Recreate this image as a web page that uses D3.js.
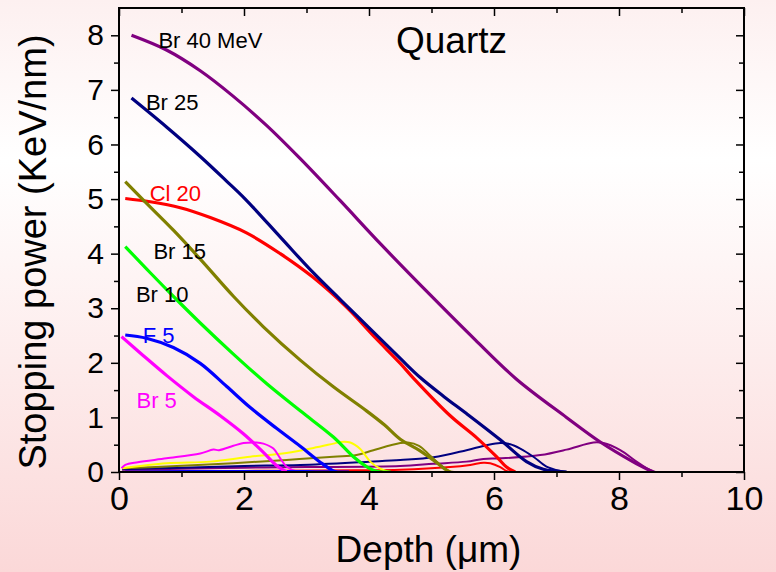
<!DOCTYPE html>
<html>
<head>
<meta charset="utf-8">
<script src="https://cdn.jsdelivr.net/npm/d3@7"></script>
<style>
html,body{margin:0;padding:0;}
svg{display:block;font-family:"Liberation Sans",Arial,sans-serif;}
</style>
</head>
<body>
<svg id="chart" width="776" height="572"></svg>
<script>
// ---- Data (depth in µm, stopping power in keV/nm) ----
const xTicks = [0, 2, 4, 6, 8, 10];
const yTicks = [0, 1, 2, 3, 4, 5, 6, 7, 8];

// electronic stopping (thick lines)
const br40Elec = [[0.2,8.0],[0.76,7.73],[1.3,7.35],[1.82,6.89],[2.36,6.35],[2.9,5.74],[3.54,4.97],[4.2,4.16],[5.0,3.22],[5.7,2.42],[6.36,1.70],[7.16,1.0],[7.7,0.55],[8.22,0.19],[8.54,0.0]];
const br25Elec = [[0.2,6.85],[0.76,6.32],[1.3,5.78],[1.72,5.33],[2.02,5.0],[2.6,4.28],[3.1,3.66],[3.8,2.87],[4.5,2.08],[4.82,1.73],[5.2,1.38],[5.56,1.07],[6.1,0.59],[6.52,0.19],[6.79,0.05],[7.16,0.0]];
const cl20Elec = [[0.1,5.01],[0.5,4.95],[0.98,4.84],[1.46,4.66],[2.04,4.38],[2.58,4.0],[3.1,3.57],[3.64,3.02],[4.1,2.46],[4.5,1.99],[4.71,1.72],[5.3,1.03],[5.72,0.63],[6.04,0.28],[6.2,0.09],[6.34,0.0]];
const br15Elec = [[0.1,5.32],[0.39,4.98],[0.87,4.43],[1.3,3.9],[1.83,3.22],[2.31,2.66],[2.9,2.05],[3.43,1.56],[3.96,1.12],[4.25,0.86],[4.5,0.6],[4.8,0.4],[5.05,0.2],[5.26,0.02],[5.3,0.0]];
const br10Elec = [[0.1,4.13],[0.5,3.65],[0.92,3.16],[1.3,2.73],[1.83,2.16],[2.36,1.62],[2.9,1.12],[3.43,0.64],[3.75,0.28],[3.96,0.1],[4.1,0.02],[4.2,0.0],[4.35,0.0]];
const f5Elec   = [[0.1,2.51],[0.44,2.45],[0.87,2.28],[1.3,1.99],[1.72,1.57],[2.1,1.18],[2.52,0.8],[2.9,0.47],[3.22,0.18],[3.43,0.02],[3.5,0.0],[3.68,0.0]];
const br5Elec  = [[0.04,2.48],[0.39,2.13],[0.76,1.77],[1.19,1.38],[1.62,1.03],[1.99,0.7],[2.31,0.36],[2.52,0.12],[2.68,0.0]];

// nuclear stopping (thin lines)
const br5Nucl  = [[0.04,0.07],[0.1,0.13],[0.3,0.18],[0.76,0.25],[1.3,0.34],[1.51,0.41],[1.6,0.4],[1.83,0.48],[1.99,0.53],[2.2,0.54],[2.31,0.52],[2.47,0.43],[2.58,0.25],[2.68,0.1],[2.85,0.01],[3.24,0.0]];
const br10Nucl = [[0.05,0.07],[0.76,0.16],[1.46,0.19],[2.1,0.28],[2.68,0.35],[3.11,0.44],[3.43,0.52],[3.55,0.55],[3.7,0.54],[3.86,0.42],[4.02,0.19],[4.18,0.06],[4.34,0.0],[4.79,0.0]];
const br15Nucl = [[0.05,0.07],[0.76,0.1],[1.83,0.16],[2.68,0.22],[3.43,0.28],[3.8,0.31],[4.07,0.4],[4.5,0.53],[4.62,0.54],[4.8,0.48],[4.98,0.3],[5.15,0.12],[5.3,0.01],[5.4,0.0],[6.0,0.0]];
const br25Nucl = [[0.05,0.05],[1.0,0.08],[2.0,0.11],[2.9,0.13],[4.0,0.19],[4.5,0.22],[5.03,0.27],[5.56,0.4],[5.88,0.49],[6.1,0.53],[6.26,0.51],[6.42,0.43],[6.63,0.28],[6.84,0.1],[7.06,0.02],[7.18,0.0]];
const br40Nucl = [[0.05,0.04],[1.0,0.06],[2.0,0.08],[3.0,0.09],[4.5,0.11],[5.03,0.15],[5.56,0.19],[5.83,0.24],[6.1,0.25],[6.74,0.31],[7.16,0.41],[7.59,0.54],[7.75,0.53],[8.02,0.4],[8.28,0.19],[8.44,0.07],[8.58,0.0]];
const cl20Nucl = [[0.1,0.01],[2.0,0.02],[3.8,0.03],[4.5,0.04],[5.3,0.09],[5.62,0.13],[5.83,0.17],[5.94,0.16],[6.1,0.09],[6.2,0.02],[6.3,0.0],[6.7,0.0]];
const f5Nucl   = [[0.1,0.01],[2.0,0.02],[3.0,0.02],[3.4,0.01],[3.68,0.0]];

const nuclearSeries = [
  {data: br40Nucl, color: "#800080"},
  {data: cl20Nucl, color: "#ff0000"},
  {data: br25Nucl, color: "#000080"},
  {data: br15Nucl, color: "#808000"},
  {data: br10Nucl, color: "#ffff00"},
  {data: br5Nucl,  color: "#ff00ff"},
  {data: f5Nucl,   color: "#0000ff"}
];
const electronicSeries = [
  {data: br40Elec, color: "#800080"},
  {data: cl20Elec, color: "#ff0000"},
  {data: br25Elec, color: "#000080"},
  {data: br15Elec, color: "#808000"},
  {data: br10Elec, color: "#00ff00"},
  {data: f5Elec,   color: "#0000ff"},
  {data: br5Elec,  color: "#ff00ff"}
];
const labels = [
  {text: "Br 40 MeV", x: 0.63, y: 7.76, color: "#000"},
  {text: "Br 25",     x: 0.43, y: 6.64, color: "#000"},
  {text: "Cl 20",     x: 0.49, y: 4.97, color: "#ff0000"},
  {text: "Br 15",     x: 0.55, y: 3.91, color: "#000"},
  {text: "Br 10",     x: 0.27, y: 3.12, color: "#000"},
  {text: "F 5",       x: 0.38, y: 2.37, color: "#0000ff"},
  {text: "Br 5",      x: 0.28, y: 1.17, color: "#ff00ff"}
];

// ---- Layout ----
const svg = d3.select("#chart");
const W = 776, H = 572;
const pL = 119, pR = 744, pT = 8, pB = 472;
const x = d3.scaleLinear().domain([0, 10]).range([pL, pR]);
const y = d3.scaleLinear().domain([0, 8.5]).range([pB, pT]);

// background gradient
const defs = svg.append("defs");
const grad = defs.append("linearGradient").attr("id","bg").attr("x1",0).attr("y1",0).attr("x2",0).attr("y2",1);
grad.append("stop").attr("offset","0%").attr("stop-color","#fdf0f0");
grad.append("stop").attr("offset","28%").attr("stop-color","#ffffff");
grad.append("stop").attr("offset","100%").attr("stop-color","#fbd8d8");
svg.append("rect").attr("width",W).attr("height",H).attr("fill","url(#bg)");
defs.append("clipPath").attr("id","plotclip").append("rect")
  .attr("x",pL).attr("y",pT-4).attr("width",pR-pL).attr("height",pB-pT+4);

const line = d3.line().x(d => x(d[0])).y(d => y(d[1])).curve(d3.curveCatmullRom.alpha(0.5));

const g = svg.append("g").attr("clip-path","url(#plotclip)");
nuclearSeries.forEach(s => {
  g.append("path").attr("d", line(s.data)).attr("fill","none")
   .attr("stroke", s.color).attr("stroke-width", 2).attr("stroke-linejoin","round");
});
electronicSeries.forEach(s => {
  g.append("path").attr("d", line(s.data)).attr("fill","none")
   .attr("stroke", s.color).attr("stroke-width", 3.2).attr("stroke-linejoin","round");
});

// ---- Axes ----
const minorX = d3.range(1, 10, 2);
const minorY = d3.range(0.5, 8.5, 1);

const xAxis = svg.append("g").attr("transform", `translate(0,${pB})`)
  .call(d3.axisBottom(x).tickValues(xTicks).tickSize(8).tickPadding(6).tickFormat(d3.format("d")));
xAxis.selectAll("text").attr("font-size", 34).attr("fill","#000").attr("font-family","Liberation Sans, Arial, sans-serif");
xAxis.append("g").call(d3.axisBottom(x).tickValues(minorX).tickSize(5).tickFormat(""));

const yAxis = svg.append("g").attr("transform", `translate(${pL},0)`)
  .call(d3.axisLeft(y).tickValues(yTicks).tickSize(8).tickPadding(7).tickFormat(d3.format("d")));
yAxis.selectAll("text").attr("font-size", 30).attr("fill","#000").attr("font-family","Liberation Sans, Arial, sans-serif");
yAxis.append("g").call(d3.axisLeft(y).tickValues(minorY).tickSize(5).tickFormat(""));

// top & right mirrored ticks (pointing inward)
const topAx = svg.append("g").attr("transform", `translate(0,${pT})`);
topAx.call(d3.axisBottom(x).tickValues(xTicks).tickSize(8).tickFormat(""));
topAx.append("g").call(d3.axisBottom(x).tickValues(minorX).tickSize(5).tickFormat(""));
const rightAx = svg.append("g").attr("transform", `translate(${pR},0)`);
rightAx.call(d3.axisLeft(y).tickValues(yTicks).tickSize(8).tickFormat(""));
rightAx.append("g").call(d3.axisLeft(y).tickValues(minorY).tickSize(5).tickFormat(""));

svg.selectAll(".domain").remove();
svg.selectAll(".tick line").attr("stroke","#000").attr("stroke-width",1.5);

svg.append("rect").attr("x",pL).attr("y",pT).attr("width",pR-pL).attr("height",pB-pT)
  .attr("fill","none").attr("stroke","#000").attr("stroke-width",2);

// ---- Titles & labels ----
svg.append("text").attr("x", (pL+pR)/2 - 3).attr("y", 562).attr("text-anchor","middle")
  .attr("font-size", 37).attr("fill","#000").text("Depth (\u03bcm)");
svg.append("text").attr("transform","translate(46,252) rotate(-90)").attr("text-anchor","middle")
  .attr("font-size", 38).attr("fill","#000").text("Stopping power (KeV/nm)");
svg.append("text").attr("x", 396).attr("y", 53).attr("font-size", 37).attr("fill","#000").text("Quartz");

labels.forEach(l => {
  svg.append("text").attr("x", x(l.x)).attr("y", y(l.y)).attr("font-size", 22)
    .attr("fill", l.color).text(l.text);
});
</script>
</body>
</html>
